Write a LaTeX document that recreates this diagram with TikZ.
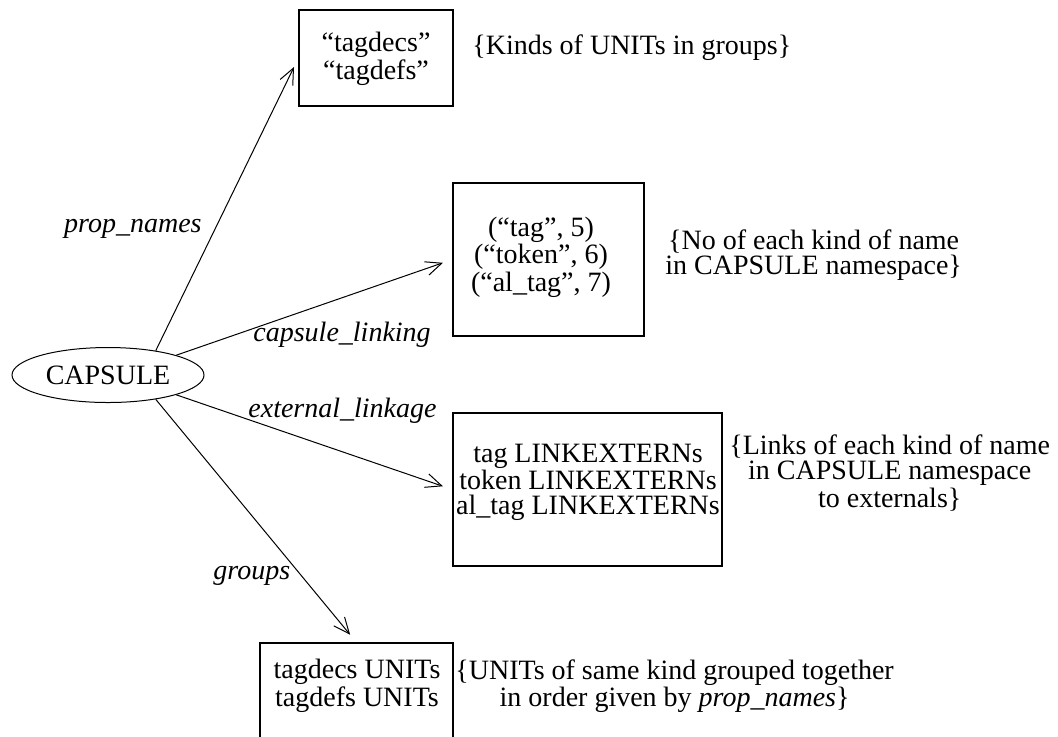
\documentclass[tikz,border=0pt]{standalone}
\usepackage{fontspec}
\setmainfont{Liberation Serif}
\usepackage{tikz}
\usetikzlibrary{shapes,arrows.meta,positioning,calc}

\begin{document}
\begin{tikzpicture}[x=0.5pt,y=-0.5pt,
    font=\fontsize{14}{12.4}\selectfont,
    >={Straight Barb[length=8pt,width=7pt]},
    boxed/.style={draw,line width=0.6pt,inner sep=0pt},
    txt/.style={align=center,inner sep=0pt},
    lbl/.style={font=\fontsize{14}{12.4}\selectfont\itshape,inner sep=0pt},
    link/.style={->,line width=0.5pt,shorten >=5pt}]
  \useasboundingbox (0,0) rectangle (1058,736);
  % capsule and boxes with absolute coordinates
  \node[ellipse,draw,line width=0.5pt,minimum width=96pt,minimum height=27.5pt,inner sep=0pt] (capsule) at (108,375) {CAPSULE};
  \node[boxed,minimum width=77pt,minimum height=48pt] (names) at (376,58) {};
  \node[boxed,minimum width=95.5pt,minimum height=76.5pt] (counts) at (548.5,259.5) {};
  \node[boxed,minimum width=134.5pt,minimum height=76.5pt] (externs) at (587.5,489.5) {};
  \node[boxed,minimum width=96.5pt,minimum height=51pt] (units) at (356.5,694) {};
  % box contents
  \node[txt] (namestxt) at (376,59) {``tagdecs''\\``tagdefs''};
  \node[txt] (countstxt) at (541,257) {(``tag'', 5)\\(``token'', 6)\\(``al\_tag'', 7)};
  \node[txt] (externstxt) at (588,482) {tag LINKEXTERNs\\token LINKEXTERNs\\al\_tag LINKEXTERNs};
  \node[txt] (unitstxt) at (357,686) {tagdecs UNITs\\tagdefs UNITs};
  % comments beside the boxes
  \node[txt,anchor=west] (kinds) at (472,48) {\{Kinds of UNITs in groups\}};
  \node[txt,anchor=west] (nokinds) at (665,255) {\{No of each kind of name\\in CAPSULE namespace\}};
  \node[txt,anchor=west] (links) at (729,473) {\{Links of each kind of name\\in CAPSULE namespace\\to externals\}};
  \node[txt,anchor=west] (grouping) at (455,686) {\{UNITs of same kind grouped together\\in order given by \textit{prop\_names}\}};
  % edge labels
  \node[lbl,anchor=east] (pn) at (202,229) {prop\_names};
  \node[lbl,anchor=west] (cl) at (253,335) {capsule\_linking};
  \node[lbl,anchor=west] (el) at (248,411) {external\_linkage};
  \node[lbl,anchor=west] (gr) at (213,576) {groups};
  % Directed edges
  \draw[link] (capsule.27) -- (names.west);
  \draw[link] (capsule.north east) -- (counts.west);
  \draw[link] (capsule.south east) -- (externs.west);
  \draw[link] (capsule.-27) -- (units.north);
\end{tikzpicture}
\end{document}
